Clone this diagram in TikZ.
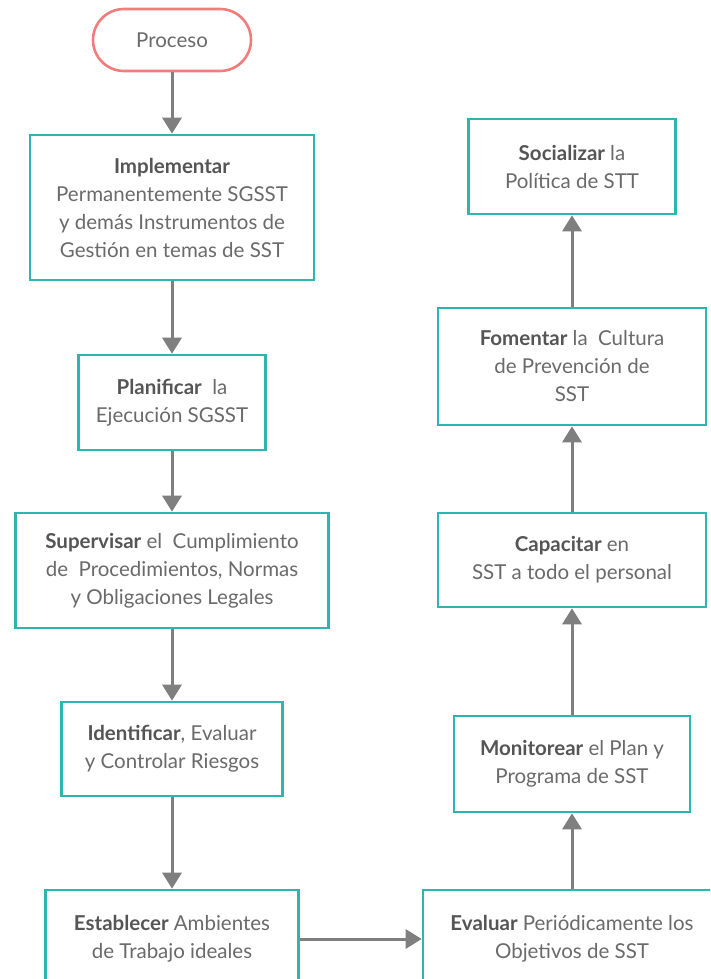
\documentclass[tikz,border=0pt]{standalone}
\usepackage{fontspec}
\setmainfont{Lato}
\usetikzlibrary{arrows.meta}
\definecolor{boxline}{HTML}{2EB5B0}
\definecolor{startline}{HTML}{F27C7C}
\definecolor{arrowgray}{HTML}{7F7F7F}
\definecolor{txt}{HTML}{6A6A6A}
\definecolor{txtbold}{HTML}{555555}
\newcommand{\kw}[1]{{\bfseries\color{txtbold}#1}}
\begin{document}
\begin{tikzpicture}[x=1pt,y=-1pt,
  every node/.style={font=\fontsize{20.5}{28}\selectfont, text=txt, align=center, inner sep=0pt},
  stepbox/.style={draw=boxline, line width=2.6pt, fill=white},
  startbox/.style={draw=startline, line width=2.6pt, rounded corners=31pt, fill=white},
  flow/.style={draw=arrowgray, line width=3pt, -{Triangle[width=19pt,length=16pt]}}]
\useasboundingbox (0,0) rectangle (710,979);
\clip (0,0) rectangle (710,979);
\fill[white] (0,0) rectangle (710,979);

% left column
\node[startbox, minimum width=158pt, minimum height=62pt] (proc) at (172,40) {Proceso};
\node[stepbox, minimum width=284pt, minimum height=145pt] (impl) at (172,207.5)
  {\kw{Implementar}\\Permanentemente SGSST\\y demás Instrumentos de\\Gestión en temas de SST};
\node[stepbox, minimum width=187pt, minimum height=95pt] (plan) at (172,402.5)
  {\kw{Planificar}\ \ la\\Ejecución SGSST};
\node[stepbox, minimum width=313pt, minimum height=115pt] (sup) at (172,570.5)
  {\kw{Supervisar} el\ \ Cumplimiento\\de\ \ Procedimientos, Normas\\y Obligaciones Legales};
\node[stepbox, minimum width=221pt, minimum height=94pt] (ident) at (172,749)
  {\kw{Identificar}, Evaluar\\y Controlar Riesgos};
\node[stepbox, minimum width=253pt, minimum height=98pt] (estab) at (172,939)
  {\kw{Establecer} Ambientes\\de Trabajo ideales};

% right column
\node[stepbox, minimum width=298pt, minimum height=98pt] (eval) at (572,939)
  {\kw{Evaluar} Periódicamente los\\Objetivos de SST};
\node[stepbox, minimum width=236pt, minimum height=96pt] (monit) at (572,764)
  {\kw{Monitorear} el Plan y\\Programa de SST};
\node[stepbox, minimum width=268pt, minimum height=94pt] (capac) at (572,560)
  {\kw{Capacitar} en\\SST a todo el personal};
\node[stepbox, minimum width=268pt, minimum height=117pt] (foment) at (572,366.5)
  {\kw{Fomentar} la\ \ Cultura\\de Prevención de\\SST};
\node[stepbox, minimum width=207pt, minimum height=95pt] (social) at (572,166.5)
  {\kw{Socializar} la\\Política de STT};

% connectors
\draw[flow] (proc.south) -- (impl.north);
\draw[flow] (impl.south) -- (plan.north);
\draw[flow] (plan.south) -- (sup.north);
\draw[flow] (sup.south) -- (ident.north);
\draw[flow] (ident.south) -- (estab.north);
\draw[flow] (estab.east) -- (eval.west);
\draw[flow] (eval.north) -- (monit.south);
\draw[flow] (monit.north) -- (capac.south);
\draw[flow] (capac.north) -- (foment.south);
\draw[flow] (foment.north) -- (social.south);
\end{tikzpicture}
\end{document}
